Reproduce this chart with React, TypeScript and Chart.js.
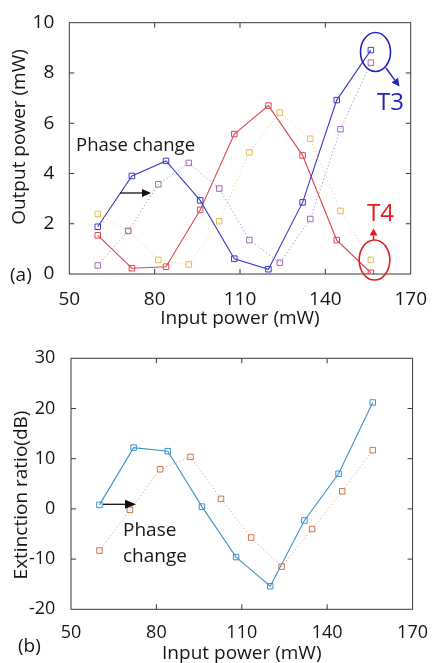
import React, { useEffect, useRef } from "react";
import { Chart, registerables } from "chart.js";

Chart.register(...registerables);

const FONT = "'Open Sans', Lato, sans-serif";
const TEXT = "#161616";

// ---- Panel (a): output power ----
const inputT = [60, 72, 84, 96, 108, 120, 132, 144, 156];
const outT3 = [1.88, 3.9, 4.5, 2.93, 0.61, 0.19, 2.85, 6.92, 8.91];
const outT4 = [1.54, 0.23, 0.29, 2.55, 5.57, 6.7, 4.72, 1.35, 0.05];
const inputShift = [60, 70.7, 81.3, 92, 102.7, 113.3, 124, 134.7, 145.3, 156];
const outT3Shift = [0.34, 1.71, 3.57, 4.42, 3.4, 1.35, 0.45, 2.19, 5.76, 8.41];
const outT4Shift = [2.39, 1.72, 0.56, 0.38, 2.1, 4.84, 6.42, 5.38, 2.51, 0.56];

// ---- Panel (b): extinction ratio ----
const erBefore = [0.8, 12.2, 11.5, 0.45, -9.6, -15.4, -2.3, 7.0, 21.2];
const erAfter = [-8.3, -0.2, 7.9, 10.35, 2.0, -5.7, -11.5, -4.0, 3.5, 11.7];

const xTickStep = 30;
const xMin = 50;
const xMax = 170;

function pts(xs: number[], ys: number[]) {
  return xs.map((x, i) => ({ x, y: ys[i] }));
}

function arrow(
  ctx: CanvasRenderingContext2D,
  x1: number, y1: number, x2: number, y2: number,
  color: string, lw: number, headLen: number, headW: number
) {
  const ang = Math.atan2(y2 - y1, x2 - x1);
  const bx = x2 - headLen * Math.cos(ang);
  const by = y2 - headLen * Math.sin(ang);
  ctx.save();
  ctx.strokeStyle = color;
  ctx.fillStyle = color;
  ctx.lineWidth = lw;
  ctx.beginPath();
  ctx.moveTo(x1, y1);
  ctx.lineTo(bx, by);
  ctx.stroke();
  ctx.beginPath();
  ctx.moveTo(x2, y2);
  ctx.lineTo(bx + (headW / 2) * Math.sin(ang), by - (headW / 2) * Math.cos(ang));
  ctx.lineTo(bx - (headW / 2) * Math.sin(ang), by + (headW / 2) * Math.cos(ang));
  ctx.closePath();
  ctx.fill();
  ctx.restore();
}

function text(
  ctx: CanvasRenderingContext2D, s: string, x: number, y: number,
  size: number, color: string, align: CanvasTextAlign = "left"
) {
  ctx.save();
  ctx.font = `${size}px ${FONT}`;
  ctx.fillStyle = color;
  ctx.textAlign = align;
  ctx.textBaseline = "middle";
  ctx.fillText(s, x, y);
  ctx.restore();
}

function makeFramePlugin(yTitle: string, yTitleX: number, yTitleY: number, extra: (ctx: CanvasRenderingContext2D) => void) {
  return {
    id: "frameTicks",
    afterDraw(chart: any) {
      const ctx: CanvasRenderingContext2D = chart.ctx;
      const { left, right, top, bottom } = chart.chartArea;
      const xs = chart.scales.x;
      const ys = chart.scales.y;
      ctx.save();
      ctx.strokeStyle = "#3a3a3a";
      ctx.lineWidth = 1;
      ctx.strokeRect(left, top, right - left, bottom - top);
      const tl = 5;
      ctx.beginPath();
      xs.ticks.forEach((t: any) => {
        if (t.value <= xs.min || t.value >= xs.max) return;
        const p = xs.getPixelForValue(t.value);
        ctx.moveTo(p, bottom);
        ctx.lineTo(p, bottom - tl);
        ctx.moveTo(p, top);
        ctx.lineTo(p, top + tl);
      });
      ys.ticks.forEach((t: any) => {
        if (t.value <= ys.min || t.value >= ys.max) return;
        const p = ys.getPixelForValue(t.value);
        ctx.moveTo(left, p);
        ctx.lineTo(left + tl, p);
        ctx.moveTo(right, p);
        ctx.lineTo(right - tl, p);
      });
      ctx.stroke();
      ctx.restore();

      ctx.save();
      ctx.translate(yTitleX, yTitleY);
      ctx.rotate(-Math.PI / 2);
      ctx.font = `19px ${FONT}`;
      ctx.fillStyle = TEXT;
      ctx.textAlign = "center";
      ctx.textBaseline = "middle";
      ctx.fillText(yTitle, 0, 0);
      ctx.restore();

      extra(ctx);
    },
  };
}

function solid(label: string, data: any[], color: string) {
  return {
    label,
    data,
    borderColor: color,
    backgroundColor: "rgba(0,0,0,0)",
    borderWidth: 1.1,
    pointStyle: "rect",
    pointRadius: 3.9,
    pointBorderWidth: 1,
    pointBorderColor: color,
    pointBackgroundColor: "rgba(0,0,0,0)",
    tension: 0,
    fill: false,
  };
}

function dotted(label: string, data: any[], color: string, lineColor: string) {
  return {
    label,
    data,
    borderColor: lineColor,
    backgroundColor: "rgba(0,0,0,0)",
    borderWidth: 1,
    borderDash: [1.2, 2.4],
    pointStyle: "rect",
    pointRadius: 3.9,
    pointBorderWidth: 1,
    pointBorderColor: color,
    pointBackgroundColor: "rgba(0,0,0,0)",
    tension: 0,
    fill: false,
  };
}

function axes(yMin: number, yMax: number, yStep: number, yWidth: number, xHeight: number, xTickPad: number, yTickPad: number, xTitleBottom: number, size: number) {
  return {
    x: {
      type: "linear",
      min: xMin,
      max: xMax,
      ticks: { stepSize: xTickStep, font: { family: FONT, size }, color: TEXT, padding: xTickPad },
      grid: { display: false },
      border: { display: false },
      title: {
        display: true,
        text: "Input power (mW)",
        font: { family: FONT, size: 19 },
        color: TEXT,
        padding: { top: 0, bottom: xTitleBottom },
      },
      afterFit(s: any) {
        s.height = xHeight;
      },
    },
    y: {
      type: "linear",
      min: yMin,
      max: yMax,
      ticks: { stepSize: yStep, font: { family: FONT, size }, color: TEXT, padding: yTickPad },
      grid: { display: false },
      border: { display: false },
      afterFit(s: any) {
        s.width = yWidth;
      },
    },
  };
}

function PanelA() {
  const ref = useRef<HTMLCanvasElement>(null);
  useEffect(() => {
    if (!ref.current) return;
    const plugin = makeFramePlugin("Output power (mW)", 20, 137, (ctx) => {
      text(ctx, "Phase change", 76, 146, 18.5, TEXT);
      arrow(ctx, 120, 193, 151, 193, "#111", 1.3, 9, 8);
      // T3 marker
      ctx.save();
      ctx.strokeStyle = "#2323b8";
      ctx.lineWidth = 1.6;
      ctx.beginPath();
      ctx.ellipse(375.5, 52, 15, 19.5, 0, 0, Math.PI * 2);
      ctx.stroke();
      ctx.restore();
      arrow(ctx, 386, 68, 399.5, 86.5, "#2323b8", 1.4, 8, 8);
      text(ctx, "T3", 377, 103, 24, "#2323b8");
      // T4 marker
      ctx.save();
      ctx.strokeStyle = "#e01c1c";
      ctx.lineWidth = 1.6;
      ctx.beginPath();
      ctx.ellipse(374.5, 260, 15.3, 20, 0, 0, Math.PI * 2);
      ctx.stroke();
      ctx.restore();
      arrow(ctx, 373.5, 240, 373.5, 228.5, "#e01c1c", 1.4, 7, 8);
      text(ctx, "T4", 367, 214, 24, "#e01c1c");
      text(ctx, "(a)", 10, 276, 19, TEXT);
    });
    const chart = new Chart(ref.current, {
      type: "line",
      data: {
        datasets: [
          dotted("T3 after phase change", pts(inputShift, outT3Shift), "#a06cb8", "#a58cb8"),
          dotted("T4 after phase change", pts(inputShift, outT4Shift), "#e6bd4c", "#ead590"),
          solid("T3", pts(inputT, outT3), "#3b3bc4"),
          solid("T4", pts(inputT, outT4), "#dc4850"),
        ],
      } as any,
      options: {
        responsive: false,
        animation: false,
        layout: { padding: { top: 22.7, right: 18, left: 0, bottom: 0 } },
        plugins: { legend: { display: false }, tooltip: { enabled: false } },
        scales: axes(0, 10, 2, 69.3, 56, 6, 7, 0, 19) as any,
      },
      plugins: [plugin as any],
    });
    return () => chart.destroy();
  }, []);
  return <canvas ref={ref} width={433} height={330} style={{ display: "block" }} />;
}

function PanelB() {
  const ref = useRef<HTMLCanvasElement>(null);
  useEffect(() => {
    if (!ref.current) return;
    const plugin = makeFramePlugin("Extinction ratio(dB)", 22, 165, (ctx) => {
      arrow(ctx, 103, 174.3, 136, 174.3, "#111", 1.3, 11, 9);
      text(ctx, "Phase", 123, 201, 19, TEXT);
      text(ctx, "change", 123, 227, 19, TEXT);
      text(ctx, "(b)", 18, 317, 19, TEXT);
    });
    const chart = new Chart(ref.current, {
      type: "line",
      data: {
        datasets: [
          dotted("After phase change", pts(inputShift, erAfter), "#c8744c", "#d4a898"),
          solid("Before phase change", pts(inputT, erBefore), "#3d93cc"),
        ],
      } as any,
      options: {
        responsive: false,
        animation: false,
        layout: { padding: { top: 28.3, right: 14.7, left: 0, bottom: 0 } },
        plugins: { legend: { display: false }, tooltip: { enabled: false } },
        scales: axes(-20, 30, 10, 71, 53.7, 5, 7.7, -2, 18) as any,
      },
      plugins: [plugin as any],
    });
    return () => chart.destroy();
  }, []);
  return <canvas ref={ref} width={433} height={333} style={{ display: "block" }} />;
}

export default function App() {
  return (
    <div style={{ position: "absolute", left: 0, top: 0, width: 433, height: 663, background: "#fff" }}>
      <PanelA />
      <PanelB />
    </div>
  );
}
